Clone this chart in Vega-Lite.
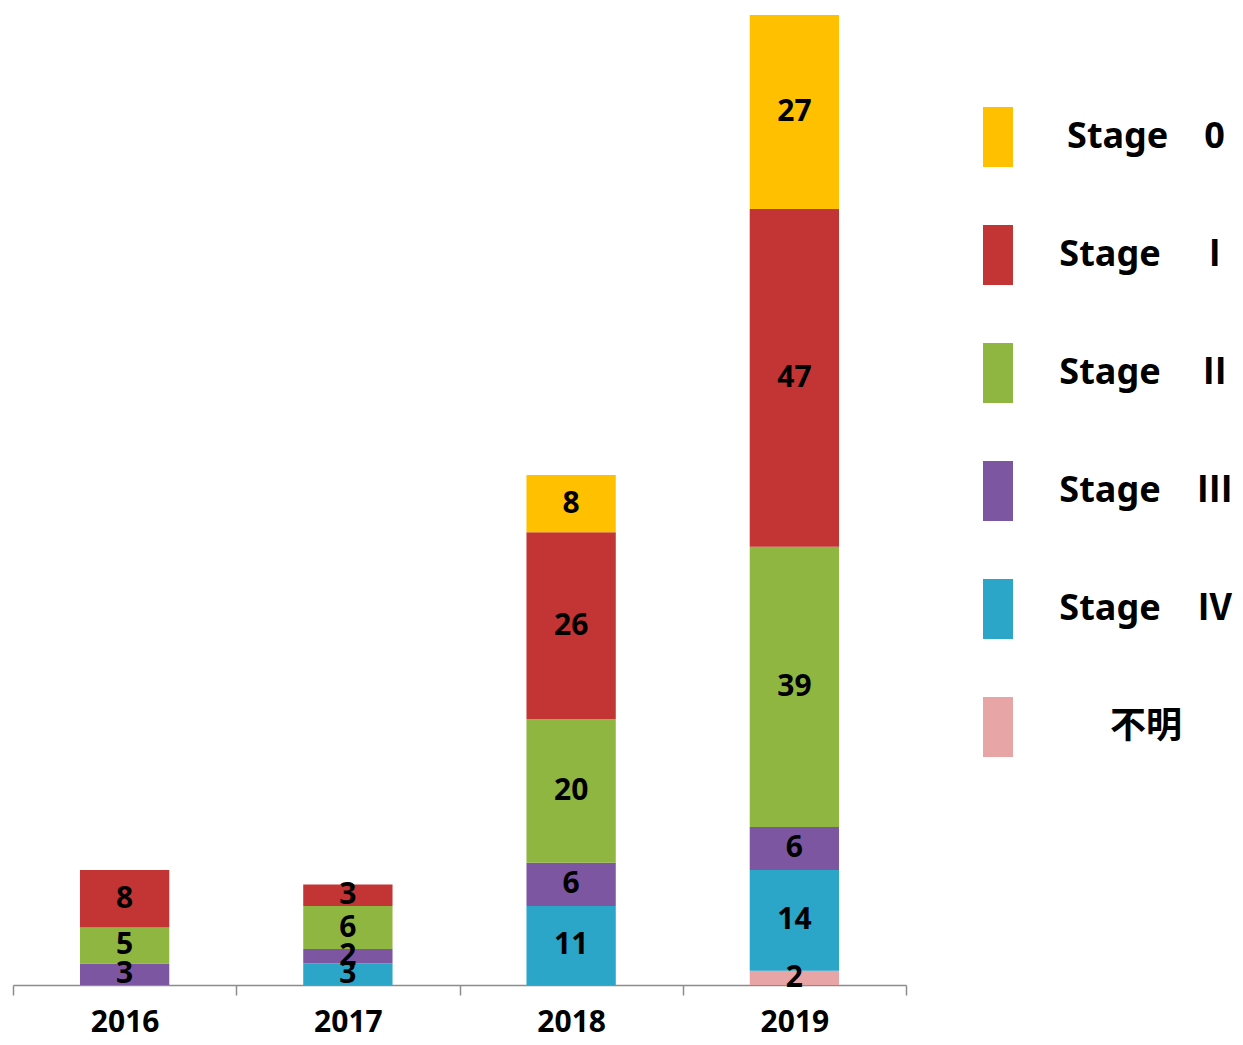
{
  "$schema": "https://vega.github.io/schema/vega-lite/v6.json",
  "width": 893,
  "height": 985,
  "padding": {"left": 12, "top": 0, "right": 0, "bottom": 0},
  "autosize": {"type": "pad"},
  "background": "white",
  "config": {
    "view": {"stroke": null},
    "font": "Noto Sans, Noto Sans CJK JP",
    "legend": {"padding": 0}
  },
  "data": {
    "values": [
      {"year": "2016", "stage": "Stage　Ⅲ", "ord": 3, "n": 3},
      {"year": "2016", "stage": "Stage　Ⅱ", "ord": 4, "n": 5},
      {"year": "2016", "stage": "Stage　Ⅰ", "ord": 5, "n": 8},
      {"year": "2017", "stage": "Stage　Ⅳ", "ord": 2, "n": 3},
      {"year": "2017", "stage": "Stage　Ⅲ", "ord": 3, "n": 2},
      {"year": "2017", "stage": "Stage　Ⅱ", "ord": 4, "n": 6},
      {"year": "2017", "stage": "Stage　Ⅰ", "ord": 5, "n": 3},
      {"year": "2018", "stage": "Stage　Ⅳ", "ord": 2, "n": 11},
      {"year": "2018", "stage": "Stage　Ⅲ", "ord": 3, "n": 6},
      {"year": "2018", "stage": "Stage　Ⅱ", "ord": 4, "n": 20},
      {"year": "2018", "stage": "Stage　Ⅰ", "ord": 5, "n": 26},
      {"year": "2018", "stage": "Stage　0", "ord": 6, "n": 8},
      {"year": "2019", "stage": "不明", "ord": 1, "n": 2},
      {"year": "2019", "stage": "Stage　Ⅳ", "ord": 2, "n": 14},
      {"year": "2019", "stage": "Stage　Ⅲ", "ord": 3, "n": 6},
      {"year": "2019", "stage": "Stage　Ⅱ", "ord": 4, "n": 39},
      {"year": "2019", "stage": "Stage　Ⅰ", "ord": 5, "n": 47},
      {"year": "2019", "stage": "Stage　0", "ord": 6, "n": 27}
    ]
  },
  "encoding": {
    "x": {
      "field": "year",
      "type": "nominal",
      "scale": {"paddingInner": 0, "paddingOuter": 0},
      "axis": {
        "title": null,
        "labelAngle": 0,
        "labelFontSize": 30,
        "labelFontWeight": "bold",
        "labelColor": "black",
        "tickBand": "extent",
        "tickSize": 10,
        "tickColor": "#8c8c8c",
        "domainColor": "#8c8c8c",
        "tickWidth": 1.5,
        "domainWidth": 1.5,
        "labelPadding": 12,
        "grid": false
      }
    },
    "y": {
      "field": "n",
      "type": "quantitative",
      "stack": "zero",
      "scale": {"domain": [0, 137.1], "nice": false},
      "axis": null
    },
    "order": {"field": "ord", "type": "quantitative"}
  },
  "layer": [
    {
      "mark": {"type": "bar", "width": {"band": 0.4}},
      "encoding": {
        "color": {
          "field": "stage",
          "type": "nominal",
          "scale": {
            "domain": ["Stage　0", "Stage　Ⅰ", "Stage　Ⅱ", "Stage　Ⅲ", "Stage　Ⅳ", "不明"],
            "range": ["#FFC000", "#C33434", "#8FB640", "#7D56A2", "#2BA5C8", "#E8A5A5"]
          },
          "legend": {
            "orient": "none",
            "legendX": 955,
            "legendY": 107,
            "title": null,
            "symbolType": "M-0.5,-1H0.5V1H-0.5Z",
            "symbolSize": 3600,
            "symbolStrokeWidth": 0,
            "symbolOpacity": 1,
            "labelFontSize": 36,
            "labelFontWeight": "bold",
            "labelColor": "black",
            "labelLimit": 400,
            "labelAlign": "center",
            "labelOffset": 118,
            "rowPadding": 58
          }
        }
      }
    },
    {
      "mark": {"type": "text", "fontSize": 30, "fontWeight": "bold", "color": "black"},
      "encoding": {
        "y": {"field": "n", "type": "quantitative", "stack": "zero", "bandPosition": 0.5},
        "detail": {"field": "stage"},
        "text": {"field": "n", "type": "quantitative"}
      }
    }
  ]
}
